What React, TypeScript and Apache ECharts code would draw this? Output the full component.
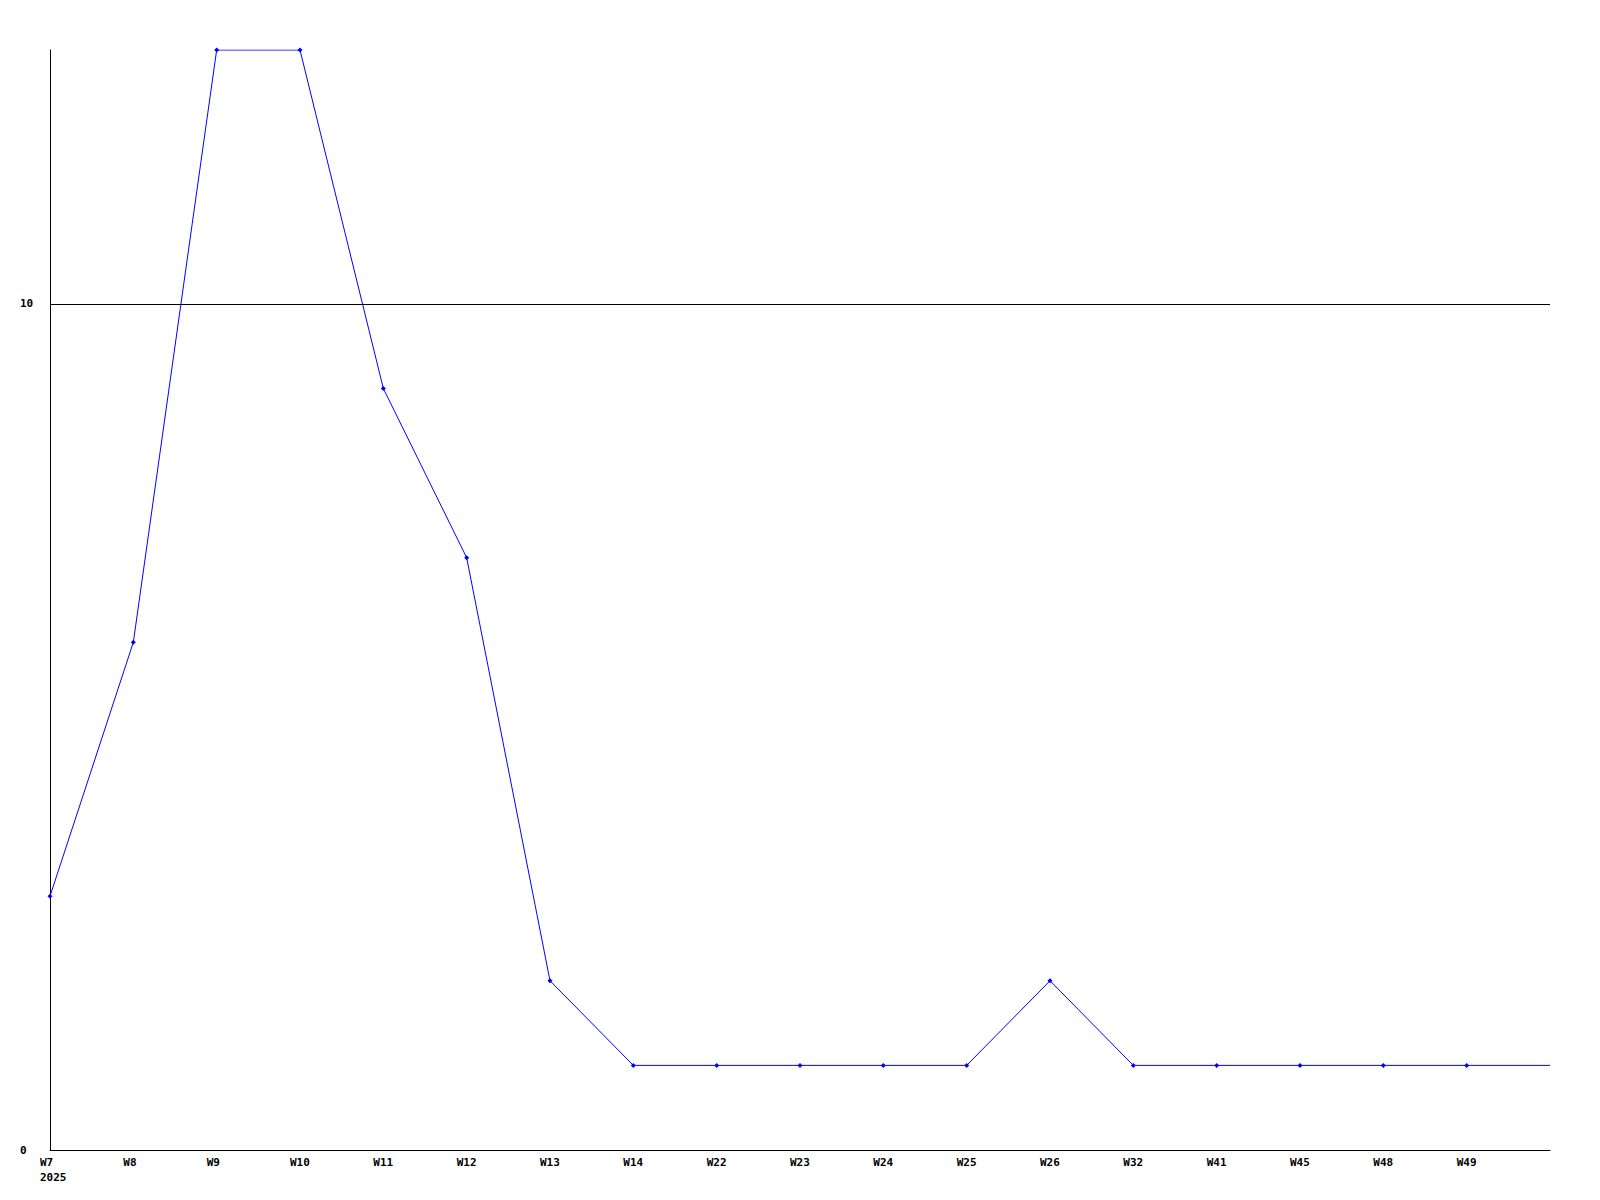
import React, { useEffect, useRef } from "react";
import * as echarts from "echarts";

const categories = ["W7", "W8", "W9", "W10", "W11", "W12", "W13", "W14", "W22", "W23", "W24", "W25", "W26", "W32", "W41", "W45", "W48", "W49", ""];
const values = [3, 6, 13, 13, 9, 7, 2, 1, 1, 1, 1, 1, 2, 1, 1, 1, 1, 1, 1];
const yearLabel = "2025";
const yTicks = [0, 10];

export default function App() {
  const ref = useRef<HTMLDivElement>(null);
  useEffect(() => {
    if (!ref.current) return;
    const chart = echarts.init(ref.current, null, { renderer: "svg" });
    const font = { fontFamily: "DejaVu Sans Mono", fontWeight: "bold" as const, fontSize: 11, color: "#000" };
    chart.setOption({
      animation: false,
      backgroundColor: "#fff",
      grid: { left: 50, right: 50, top: 50, bottom: 50, containLabel: false },
      xAxis: {
        type: "category",
        data: categories,
        boundaryGap: false,
        axisLine: { show: true, lineStyle: { color: "#000", width: 1 } },
        axisTick: { show: false },
        splitLine: { show: false },
        axisLabel: {
          ...font,
          interval: 0,
          align: "left",
          verticalAlign: "top",
          margin: 5,
          lineHeight: 15,
          padding: [0, 0, 0, -10],
          formatter: (v: string, i: number) => (i === 0 ? v + "\n" + yearLabel : v),
        },
      },
      yAxis: {
        type: "value",
        min: 0,
        max: 13,
        interval: 10,
        axisLine: { show: true, lineStyle: { color: "#000", width: 1 } },
        axisTick: { show: false },
        splitLine: { show: false },
        axisLabel: {
          ...font,
          align: "left",
          margin: 30,
          formatter: (v: number) => (yTicks.includes(v) ? String(v) : ""),
          showMaxLabel: false,
        },
      },
      series: [
        {
          type: "line",
          data: values.map((v, i) => (i === values.length - 1 ? { value: v, symbol: "none" } : v)),
          symbol: "diamond",
          symbolSize: 5,
          showSymbol: true,
          lineStyle: { color: "#0000ff", width: 1 },
          itemStyle: { color: "#0000ff" },
          markLine: {
            silent: true,
            symbol: "none",
            label: { show: false },
            lineStyle: { color: "#000", width: 1, type: "solid" },
            data: [{ yAxis: 10 }],
          },
        },
      ],
    });
    return () => chart.dispose();
  }, []);
  return <div ref={ref} style={{ width: 1600, height: 1200, position: "absolute", left: 0, top: 0 }} />;
}
